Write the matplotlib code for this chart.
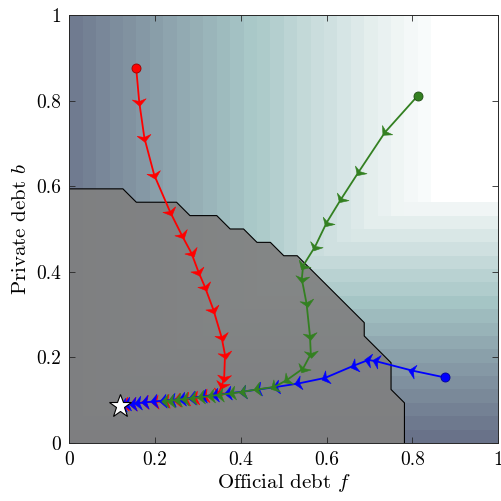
import numpy as np
import matplotlib

matplotlib.use("Agg")
import matplotlib.pyplot as plt
from matplotlib.path import Path
from matplotlib.markers import MarkerStyle
from matplotlib.transforms import Affine2D

plt.rcParams["font.family"] = ["cmr10"]
plt.rcParams["mathtext.fontset"] = "cm"
plt.rcParams["axes.formatter.use_mathtext"] = True

# background value, read per grid column (official debt) and row (private debt)
val_f = [0.50, 0.52, 0.54, 0.56, 0.575, 0.595, 0.615, 0.635, 0.655, 0.67,
         0.69, 0.71, 0.73, 0.75, 0.765, 0.785, 0.805, 0.825, 0.845, 0.86,
         0.88, 0.90, 0.92, 0.935, 0.95, 0.965, 0.98, 1.0, 1.0, 1.0, 1.0, 1.0]
val_b = [0.47, 0.495, 0.52, 0.545, 0.57, 0.595, 0.62, 0.65, 0.68, 0.71,
         0.74, 0.77, 0.80, 0.83, 0.86, 0.89, 0.92, 0.955, 1.0, 1.0,
         1.0, 1.0, 1.0, 1.0, 1.0, 1.0, 1.0, 1.0, 1.0, 1.0, 1.0, 1.0]

# default-region boundary (grid units of 1/32)
bnd_f = [0, 4, 5, 8, 9, 11, 12, 13, 14, 15, 16, 17, 22, 22, 24, 24, 25, 25]
bnd_b = [19, 19, 18, 18, 17, 17, 16, 16, 15, 15, 14, 14, 9, 8, 6, 4, 3, 0]

# trajectories
red_f = [0.156, 0.163, 0.175, 0.198, 0.235, 0.262, 0.285, 0.301, 0.316, 0.336,
         0.355, 0.363, 0.361, 0.356, 0.348, 0.316, 0.293, 0.272, 0.250, 0.226,
         0.200, 0.176, 0.149, 0.131]
red_b = [0.875, 0.797, 0.713, 0.626, 0.540, 0.486, 0.443, 0.400, 0.365, 0.311,
         0.247, 0.206, 0.152, 0.135, 0.116, 0.109, 0.105, 0.102, 0.100, 0.098,
         0.096, 0.095, 0.092, 0.090]
green_f = [0.812, 0.736, 0.675, 0.633, 0.600, 0.573, 0.545, 0.542, 0.553, 0.561,
           0.563, 0.545, 0.507, 0.478, 0.437, 0.406, 0.379, 0.352, 0.330, 0.308,
           0.288, 0.270, 0.253, 0.238, 0.223]
green_b = [0.811, 0.726, 0.634, 0.569, 0.515, 0.459, 0.414, 0.383, 0.326, 0.250,
           0.208, 0.174, 0.147, 0.131, 0.125, 0.120, 0.116, 0.113, 0.110, 0.107,
           0.105, 0.103, 0.101, 0.099, 0.098]
blue_f = [0.876, 0.800, 0.715, 0.697, 0.664, 0.596, 0.534, 0.483, 0.440, 0.405,
          0.371, 0.340, 0.312, 0.287, 0.263, 0.240, 0.218, 0.198, 0.176, 0.160,
          0.149, 0.135, 0.125]
blue_b = [0.153, 0.169, 0.191, 0.194, 0.181, 0.152, 0.139, 0.131, 0.125, 0.120,
          0.116, 0.112, 0.109, 0.106, 0.103, 0.101, 0.099, 0.097, 0.095, 0.093,
          0.092, 0.090, 0.089]
steady_f, steady_b = 0.119, 0.086

ticks = [0, 0.2, 0.4, 0.6, 0.8, 1]
tick_labels = ["0", "0.2", "0.4", "0.6", "0.8", "1"]

RED = (1, 0, 0)
GREEN = (0.2, 0.5, 0.13)
BLUE = (0, 0, 1)

fig = plt.figure(figsize=(5.01, 5.01), dpi=100)
ax = fig.add_axes([0.1383, 0.1158, 0.8563, 0.8543])

n = len(val_f)
edges = np.linspace(0, 1, n + 1)
C = np.minimum(np.array(val_f)[None, :], np.array(val_b)[:, None])
ax.pcolormesh(edges, edges, C, cmap="bone", vmin=0, vmax=1, shading="flat")

bf = np.array(bnd_f) / 32
bb = np.array(bnd_b) / 32
ax.fill(np.r_[bf, 0], np.r_[bb, 0], color=(0.5, 0.5, 0.5), alpha=0.92, lw=0)
ax.plot(bf, bb, color="k", lw=0.8)

ax.set_xlim(0, 1)
ax.set_ylim(0, 1)

# swept-back arrowhead marker pointing along +x
arrow = Path([(0.55, 0), (-0.45, 1.0), (-0.15, 0), (-0.45, -1.0), (0.55, 0)],
             [Path.MOVETO, Path.LINETO, Path.LINETO, Path.LINETO, Path.CLOSEPOLY])


def trajectory(fx, by, col, z):
    ax.plot(fx, by, "-", color=col, lw=1.3, zorder=z)
    pts = ax.transData.transform(np.c_[fx, by])
    for i in range(1, len(fx)):
        d = pts[i] - pts[i - 1]
        ang = np.arctan2(d[1], d[0])
        ms = MarkerStyle(arrow, transform=Affine2D().rotate(ang))
        ax.plot(fx[i], by[i], marker=ms, ms=10, color=col, mec=col,
                mew=0.4, zorder=z)
    ax.plot(fx[0], by[0], "o", ms=6.5, color=col,
            mec=tuple(c * 0.6 for c in col), mew=0.6, zorder=z + 0.1)


trajectory(red_f, red_b, RED, 3)
trajectory(blue_f, blue_b, BLUE, 4)
trajectory(green_f, green_b, GREEN, 5)

ax.plot(steady_f, steady_b, "*", ms=17, mfc="white", mec="k", mew=0.8, zorder=7)

ax.set_xticks(ticks)
ax.set_yticks(ticks)
ax.set_xticklabels(tick_labels)
ax.set_yticklabels(tick_labels)
ax.tick_params(direction="in", length=4, width=0.6, top=True, right=True,
               labelsize=14, colors=(0.15, 0.15, 0.15), pad=6)
for t in ax.get_xticklabels() + ax.get_yticklabels():
    t.set_color("k")
for s in ax.spines.values():
    s.set_color((0.15, 0.15, 0.15))
    s.set_linewidth(0.7)

ax.set_xlabel(r"Official debt $f$", fontsize=15, labelpad=2)
ax.set_ylabel(r"Private debt $b$", fontsize=15, labelpad=4)

fig.savefig("out.png", dpi=100)
